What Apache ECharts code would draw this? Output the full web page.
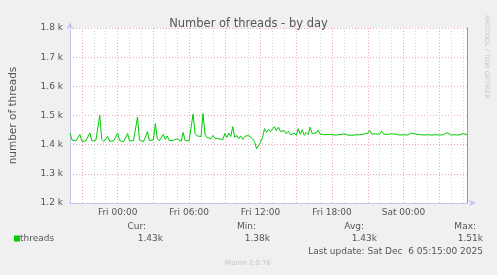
<!DOCTYPE html>
<html><head><meta charset="utf-8">
<script src="https://cdn.jsdelivr.net/npm/echarts@6/dist/echarts.min.js"></script>
<style>html,body{margin:0;padding:0;background:#f0f0f0}#c{width:497px;height:275px}</style>
</head><body><div id="c"></div>
<script>
// 10-minute samples from Thu 20:00 to Sat 05:20
const startDay = 'Thu';
const threads = [
1440,1416,1410,1413,1409,1435,1411,1409,1413,1410,
1440,1413,1410,1414,1412,1500,1418,1411,1410,1428,
1412,1410,1413,1411,1440,1414,1411,1410,1412,1438,
1413,1410,1414,1412,1495,1416,1412,1410,1413,1445,
1414,1411,1416,1472,1420,1413,1415,1435,1418,1430,
1414,1412,1415,1413,1420,1414,1412,1442,1414,1411,
1413,1412,1505,1438,1430,1434,1428,1507,1436,1425,
1428,1420,1432,1422,1425,1420,1423,1418,1438,1425,
1440,1428,1462,1425,1432,1420,1430,1418,1428,1422,
1432,1435,1420,1410,1386,1384,1408,1425,1455,1442,
1452,1445,1450,1462,1448,1460,1445,1440,1448,1438,
1446,1434,1428,1440,1432,1455,1436,1451,1432,1442,
1435,1460,1438,1432,1440,1450,1436,1438,1434,1437,
1435,1437,1434,1436,1433,1437,1435,1434,1437,1435,
1433,1436,1432,1435,1434,1437,1434,1433,1436,1435,
1440,1449,1436,1434,1437,1433,1436,1447,1436,1433,
1435,1434,1437,1433,1436,1435,1433,1437,1434,1436,
1433,1435,1440,1434,1436,1433,1435,1437,1433,1435,
1434,1436,1433,1435,1434,1437,1433,1435,1434,1436,
1441,1435,1433,1436,1434,1437,1433,1436,1438,1435,
1434
];
const tickLabels = ['Fri 00:00','Fri 06:00','Fri 12:00','Fri 18:00','Sat 00:00'];
const yTicks = [1200,1300,1400,1500,1600,1700,1800];
const seriesName = 'threads';
const lastUpdate = 'Last update: Sat Dec  6 05:15:00 2025';

// category labels for each 10-minute step
const days = ['Thu','Fri','Sat'];
const cats = [];
for (let i = 0; i < threads.length; i++) {
  const m = 20*60 + i*10;
  const d = days[Math.floor(m/1440)];
  const hh = Math.floor((m%1440)/60), mm = m%60;
  cats.push(d + ' ' + String(hh).padStart(2,'0') + ':' + String(mm).padStart(2,'0'));
}
const fmtK = v => (v/1000).toFixed(2) + 'k';
const cur = threads[threads.length-1];
const mn = Math.min(...threads), mx = Math.max(...threads);
const avg = threads.reduce((a,b)=>a+b,0)/threads.length;

const FONT = 'DejaVu Sans';
const TXT = '#555';
const chart = echarts.init(document.getElementById('c'), null, {renderer:'canvas'});
chart.setOption({
  backgroundColor: '#f0f0f0',
  animation: false,
  title: {text: 'Number of threads - by day', left: 'center', top: 13,
    textStyle: {fontFamily: FONT, fontSize: 11.5, fontWeight: 'normal', color: TXT}},
  grid: {left: 67, right: 30, top: 28, bottom: 72, show: true, backgroundColor: '#fff', borderWidth: 0},
  legend: {data: [seriesName], left: 14, top: 234, padding: 0, itemWidth: 6, itemHeight: 6,
    icon: 'rect', textStyle: {fontFamily: FONT, fontSize: 9, color: TXT, padding: [0,0,0,-5]}},
  xAxis: [{
    type: 'category', data: cats, boundaryGap: false,
    axisLine: {lineStyle: {color: '#c4c4f0', width: 1}, symbol: ['none','arrow'], symbolSize: [5,7], symbolOffset: [0, 9]},
    axisTick: {show: false},
    axisLabel: {fontFamily: FONT, fontSize: 9, color: TXT, margin: 5,
      interval: (i, v) => tickLabels.indexOf(v) >= 0},
    splitLine: {show: true, interval: (i) => i % 6 === 0,
      lineStyle: {color: '#d4d4d4', type: [1,2], width: 1}}
  }, {
    type: 'category', data: cats, boundaryGap: false, position: 'bottom',
    axisLine: {show: false}, axisTick: {show: false}, axisLabel: {show: false},
    splitLine: {show: true, interval: (i) => i % 18 === 6,
      lineStyle: {color: '#eeaaaa', type: [1,2], width: 1}}
  }],
  yAxis: [{
    type: 'value', min: yTicks[0], max: yTicks[yTicks.length-1], interval: 100,
    name: 'number of threads', nameLocation: 'middle', nameRotate: 90, nameGap: 51,
    nameTextStyle: {fontFamily: FONT, fontSize: 10.5, color: TXT},
    axisLine: {show: true, lineStyle: {color: '#c4c4f0'}, symbol: ['none','arrow'], symbolSize: [5,7], symbolOffset: [0, 6]},
    axisTick: {show: false},
    axisLabel: {fontFamily: FONT, fontSize: 9, color: TXT, margin: 7,
      formatter: v => (v/1000).toFixed(1) + ' k'},
    splitLine: {show: true, lineStyle: {color: '#eeaaaa', type: [1,2], width: 1}}
  }, {
    type: 'value', position: 'right', min: yTicks[0], max: yTicks[yTicks.length-1], interval: 100,
    axisLine: {show: true, lineStyle: {color: '#9a9a9a'}}, axisTick: {show: false},
    axisLabel: {show: false}, splitLine: {show: false}
  }],
  series: [{
    name: seriesName, type: 'line', data: threads, showSymbol: false, symbol: 'none',
    lineStyle: {color: '#00cc00', width: 1}, itemStyle: {color: '#00cc00'}
  }],
  graphic: [
    {type: 'text', x: 487, y: 15, rotation: -Math.PI/2,
      style: {text: 'RRDTOOL / TOBI OETIKER', font: '6.5px "DejaVu Sans"', fill: '#c8c8c8', align: 'left', verticalAlign: 'middle'}},
    {type: 'text', x: 146, y: 227, style: {text: 'Cur:', font: '9px "DejaVu Sans"', fill: TXT, align: 'right', verticalAlign: 'middle'}},
    {type: 'text', x: 256, y: 227, style: {text: 'Min:', font: '9px "DejaVu Sans"', fill: TXT, align: 'right', verticalAlign: 'middle'}},
    {type: 'text', x: 364, y: 227, style: {text: 'Avg:', font: '9px "DejaVu Sans"', fill: TXT, align: 'right', verticalAlign: 'middle'}},
    {type: 'text', x: 476, y: 227, style: {text: 'Max:', font: '9px "DejaVu Sans"', fill: TXT, align: 'right', verticalAlign: 'middle'}},
    {type: 'text', x: 163, y: 239, style: {text: fmtK(cur), font: '9px "DejaVu Sans"', fill: TXT, align: 'right', verticalAlign: 'middle'}},
    {type: 'text', x: 270, y: 239, style: {text: fmtK(mn), font: '9px "DejaVu Sans"', fill: TXT, align: 'right', verticalAlign: 'middle'}},
    {type: 'text', x: 377, y: 239, style: {text: fmtK(avg), font: '9px "DejaVu Sans"', fill: TXT, align: 'right', verticalAlign: 'middle'}},
    {type: 'text', x: 483, y: 239, style: {text: fmtK(mx), font: '9px "DejaVu Sans"', fill: TXT, align: 'right', verticalAlign: 'middle'}},
    {type: 'text', x: 483, y: 252, style: {text: lastUpdate, font: '9px "DejaVu Sans"', fill: TXT, align: 'right', verticalAlign: 'middle', whiteSpace: 'pre'}},
    {type: 'text', x: 248, y: 263, style: {text: 'Munin 2.0.76', font: '7px "DejaVu Sans"', fill: '#c4c4c4', align: 'center', verticalAlign: 'middle'}}
  ]
});
</script></body></html>
